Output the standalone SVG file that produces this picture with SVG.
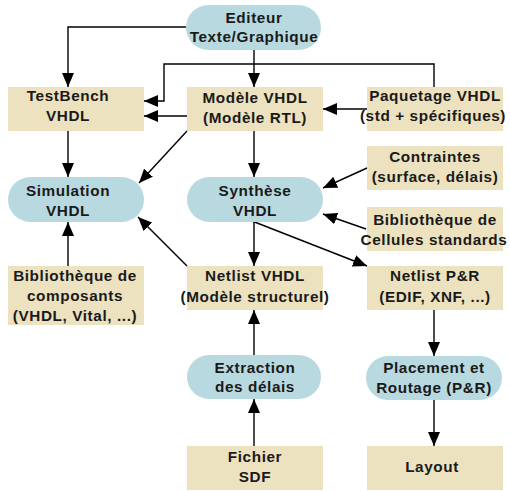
<svg xmlns="http://www.w3.org/2000/svg" width="510" height="491" viewBox="0 0 510 491">
  <style>
    .pill { fill: #b9d9e0; }
    .box { fill: #ede2bf; }
    text { font-family: "Liberation Sans", Arial, sans-serif; font-size: 15.3px; font-weight: bold; fill: #1a1a1a; text-anchor: middle; letter-spacing: 0.6px; }
    .wire { fill: none; stroke: #000; stroke-width: 1.4; }
  </style>
  <defs>
    <marker id="arrow" viewBox="0 0 14 12" refX="14" refY="6" markerWidth="14" markerHeight="12" markerUnits="userSpaceOnUse" orient="auto">
      <path d="M0,0 L14,6 L0,12 Z" fill="#000"/>
    </marker>
  </defs>

  <rect width="510" height="491" fill="#fff"/>

  <!-- connectors -->
  <g id="connectors" class="wire" marker-end="url(#arrow)">
    <path d="M186,27 H68 V87"/>
    <path d="M254,50 V87"/>
    <path d="M434,87 V64 H164 V101 H144"/>
    <path d="M187,116 H144"/>
    <path d="M367,109 H323"/>
    <path d="M187,131 L139,183"/>
    <path d="M68,131 V177"/>
    <path d="M254,131 V177"/>
    <path d="M367,168 L323,188"/>
    <path d="M366,229 L323,214"/>
    <path d="M254,222 V266"/>
    <path d="M252,221 L367,266"/>
    <path d="M187,266 L138,217"/>
    <path d="M68,266 V222"/>
    <path d="M254,355 V310"/>
    <path d="M254,446 V399"/>
    <path d="M434,310 V356"/>
    <path d="M434,400 V446"/>
  </g>

  <g id="editeur">
    <rect class="pill" x="186" y="5" width="135" height="45" rx="22.5"/>
    <text x="254" y="23">Editeur</text>
    <text x="254" y="42">Texte/Graphique</text>
  </g>

  <g id="testbench">
    <rect class="box" x="8" y="87" width="136" height="44"/>
    <text x="68" y="101">TestBench</text>
    <text x="68" y="121">VHDL</text>
  </g>

  <g id="modele-vhdl">
    <rect class="box" x="187" y="87" width="136" height="44"/>
    <text x="255" y="103">Modèle VHDL</text>
    <text x="255" y="123">(Modèle RTL)</text>
  </g>

  <g id="paquetage">
    <rect class="box" x="367" y="87" width="136" height="44"/>
    <text x="435" y="101">Paquetage VHDL</text>
    <text x="433" y="121">(std + spécifiques)</text>
  </g>

  <g id="simulation">
    <rect class="pill" x="8" y="177" width="136" height="45" rx="22.5"/>
    <text x="68" y="196">Simulation</text>
    <text x="68" y="216">VHDL</text>
  </g>

  <g id="synthese">
    <rect class="pill" x="187" y="177" width="136" height="45" rx="22.5"/>
    <text x="255" y="196">Synthèse</text>
    <text x="255" y="216">VHDL</text>
  </g>

  <g id="contraintes">
    <rect class="box" x="367" y="146" width="136" height="44"/>
    <text x="435" y="162">Contraintes</text>
    <text x="435" y="182">(surface, délais)</text>
  </g>

  <g id="bibliotheque-cellules">
    <rect class="box" x="367" y="207" width="136" height="44"/>
    <text x="435" y="225">Bibliothèque de</text>
    <text x="434" y="245">Cellules standards</text>
  </g>

  <g id="bibliotheque-composants">
    <rect class="box" x="8" y="266" width="136" height="59"/>
    <text x="75" y="281">Bibliothèque de</text>
    <text x="75" y="301">composants</text>
    <text x="75" y="321">(VHDL, Vital, ...)</text>
  </g>

  <g id="netlist-vhdl">
    <rect class="box" x="187" y="266" width="136" height="44"/>
    <text x="255" y="281">Netlist VHDL</text>
    <text x="255" y="302">(Modèle structurel)</text>
  </g>

  <g id="netlist-pr">
    <rect class="box" x="367" y="266" width="136" height="44"/>
    <text x="435" y="281">Netlist P&amp;R</text>
    <text x="435" y="302">(EDIF, XNF, ...)</text>
  </g>

  <g id="extraction">
    <rect class="pill" x="187" y="355" width="134" height="44" rx="22"/>
    <text x="255" y="373">Extraction</text>
    <text x="255" y="392">des délais</text>
  </g>

  <g id="placement">
    <rect class="pill" x="366" y="356" width="136" height="44" rx="22"/>
    <text x="434" y="373">Placement et</text>
    <text x="434" y="393">Routage (P&amp;R)</text>
  </g>

  <g id="fichier-sdf">
    <rect class="box" x="187" y="446" width="136" height="44"/>
    <text x="255" y="462">Fichier</text>
    <text x="255" y="482">SDF</text>
  </g>

  <g id="layout">
    <rect class="box" x="367" y="446" width="136" height="44"/>
    <text x="432" y="472">Layout</text>
  </g>
</svg>
